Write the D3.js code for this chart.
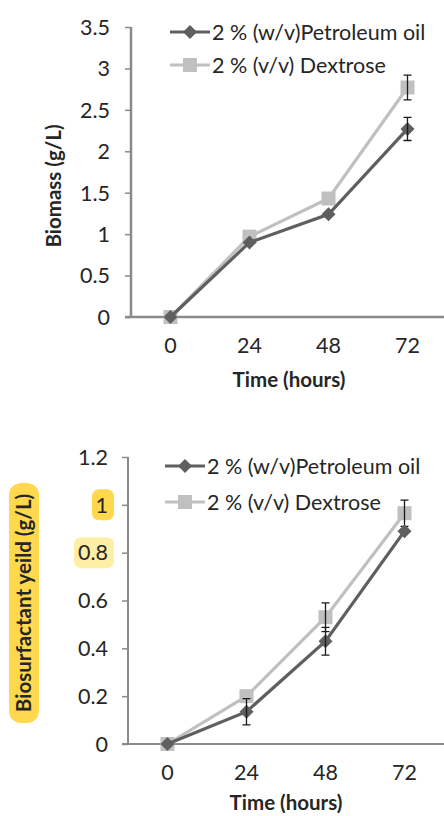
<!DOCTYPE html>
<html>
<head>
<meta charset="utf-8">
<script src="https://cdn.jsdelivr.net/npm/d3@7"></script>
<style>
  html, body { margin: 0; padding: 0; background: #fff; }
  svg { display: block; }
  text { font-family: "Lato", "Open Sans", sans-serif; fill: #262626; }
</style>
</head>
<body>
<svg id="chart" width="444" height="816"></svg>
<script>
// Sampling times (hours)
const times = ["0", "24", "48", "72"];
const seriesNames = ["2 % (w/v)Petroleum oil", "2 % (v/v) Dextrose"];

// Biomass (g/L)
const biomassPetroleum = [0, 0.9, 1.24, 2.27];
const biomassDextrose  = [0, 0.97, 1.43, 2.77];
const biomassPetroleumErr = [0, 0, 0, 0.14];
const biomassDextroseErr  = [0, 0, 0, 0.15];
const biomassTicks = [0, 0.5, 1, 1.5, 2, 2.5, 3, 3.5];

// Biosurfactant yield (g/L)
const yieldPetroleum = [0, 0.135, 0.43, 0.89];
const yieldDextrose  = [0, 0.2, 0.53, 0.965];
const yieldPetroleumErr = [0, 0.055, 0.058, 0];
const yieldDextroseErr  = [0, 0, 0.06, 0.055];
const yieldTicks = [0, 0.2, 0.4, 0.6, 0.8, 1, 1.2];

const colors = ["#5f5f5f", "#c0c0c0"];
const FS = 21.5;
const svg = d3.select("#chart");

function panel(cfg) {
  const g = svg.append("g");
  const x = d3.scaleBand().domain(times).range([cfg.left, cfg.left + 316]);
  const y = d3.scaleLinear().domain([0, cfg.max]).range([cfg.bottom, cfg.top]);

  // highlighted tick labels / title backgrounds
  (cfg.marks || []).forEach(m => {
    g.append("rect")
      .attr("x", m.x).attr("y", y(m.v) - m.h / 2)
      .attr("width", m.w).attr("height", m.h)
      .attr("rx", 7).attr("fill", m.fill);
  });
  if (cfg.titleBox) {
    const b = cfg.titleBox;
    g.append("rect").attr("x", b.x).attr("y", b.y).attr("width", b.w).attr("height", b.h)
      .attr("rx", 12).attr("fill", b.fill);
  }

  // y axis
  const ya = d3.axisLeft(y).tickValues(cfg.ticks).tickSize(6).tickPadding(cfg.yPad)
    .tickFormat(d => String(d));
  const yg = g.append("g").attr("transform", `translate(${cfg.left},0)`).call(ya);
  yg.select(".domain").attr("stroke", "#8a8a8a").attr("stroke-width", cfg.axisW)
    .attr("d", `M0,${cfg.bottom}V${cfg.top}`);
  yg.selectAll(".tick line").attr("stroke", "#8a8a8a").attr("stroke-width", 1.5);
  yg.selectAll(".tick text").attr("font-size", FS).attr("fill", "#262626")
    .attr("font-family", "Lato, sans-serif").attr("dy", "0.34em");

  // x axis (no tick marks)
  const xa = d3.axisBottom(x).tickSize(0).tickPadding(21);
  const xg = g.append("g").attr("transform", `translate(0,${cfg.bottom})`).call(xa);
  xg.select(".domain").attr("stroke", "#8a8a8a").attr("stroke-width", cfg.axisW)
    .attr("d", `M${cfg.left - 6},0H444`);
  xg.selectAll(".tick text").attr("font-size", FS).attr("fill", "#262626")
    .attr("font-family", "Lato, sans-serif");

  // axis titles
  g.append("text").attr("x", x.range()[0] + 158).attr("y", cfg.bottom + cfg.xTitleDy)
    .attr("text-anchor", "middle").attr("font-size", 20.5).attr("font-weight", "bold")
    .text("Time (hours)");
  g.append("text")
    .attr("transform", `translate(${cfg.titleX},${cfg.titleY}) rotate(-90)`)
    .attr("text-anchor", "middle").attr("font-size", 20.5).attr("font-weight", "bold")
    .text(cfg.yTitle);

  const cx = d => x(d) + x.bandwidth() / 2;
  const line = d3.line().x(d => cx(d.t)).y(d => y(d.v));

  // series drawn back to front: dextrose first, then petroleum on top
  [1, 0].forEach(si => {
    const vals = cfg.values[si], errs = cfg.errors[si];
    const pts = times.map((t, i) => ({ t, v: vals[i], e: errs[i] }));
    g.append("path").datum(pts).attr("d", line).attr("fill", "none")
      .attr("stroke", colors[si]).attr("stroke-width", 3.2);
    pts.forEach(p => {
      const px = cx(p.t), py = y(p.v);
      if (si === 1) {
        g.append("rect").attr("x", px - 7).attr("y", py - 7).attr("width", 14).attr("height", 14)
          .attr("fill", colors[si]);
      } else {
        g.append("path").attr("d", `M${px},${py - 7}L${px + 7},${py}L${px},${py + 7}L${px - 7},${py}Z`)
          .attr("fill", colors[si]);
      }
      if (p.e > 0) {
        const y1 = y(p.v + p.e), y2 = y(p.v - p.e);
        g.append("path")
          .attr("d", `M${px},${y1}V${y2}M${px - 4},${y1}H${px + 4}M${px - 4},${y2}H${px + 4}`)
          .attr("stroke", "#1a1a1a").attr("stroke-width", 1.3).attr("fill", "none");
      }
    });
  });

  // legend
  seriesNames.forEach((name, i) => {
    const ly = cfg.legendY + i * cfg.legendGap;
    const lx = cfg.legendX;
    g.append("line").attr("x1", lx).attr("x2", lx + 40).attr("y1", ly).attr("y2", ly)
      .attr("stroke", colors[i]).attr("stroke-width", 3.2);
    const mx = lx + 20;
    if (i === 1) {
      g.append("rect").attr("x", mx - 7).attr("y", ly - 7).attr("width", 14).attr("height", 14)
        .attr("fill", colors[i]);
    } else {
      g.append("path").attr("d", `M${mx},${ly - 7}L${mx + 7},${ly}L${mx},${ly + 7}L${mx - 7},${ly}Z`)
        .attr("fill", colors[i]);
    }
    g.append("text").attr("x", lx + 42).attr("y", ly + 7.5).attr("font-size", FS).text(name);
  });
}

panel({
  left: 131, top: 27, bottom: 317, max: 3.5, ticks: biomassTicks, axisW: 2.5, yPad: 15,
  values: [biomassPetroleum, biomassDextrose], errors: [biomassPetroleumErr, biomassDextroseErr],
  yTitle: "Biomass (g/L)", titleX: 61, titleY: 186, xTitleDy: 70,
  legendX: 170, legendY: 32, legendGap: 33
});

panel({
  left: 128, top: 457, bottom: 744, max: 1.2, ticks: yieldTicks, axisW: 2, yPad: 14,
  values: [yieldPetroleum, yieldDextrose], errors: [yieldPetroleumErr, yieldDextroseErr],
  yTitle: "Biosurfactant yeild (g/L)", titleX: 31, titleY: 603, xTitleDy: 66,
  titleBox: { x: 9, y: 483, w: 30, h: 240, fill: "#ffd84d" },
  marks: [
    { v: 1, x: 92, w: 22, h: 31, fill: "#ffd84d" },
    { v: 0.8, x: 74, w: 40, h: 31, fill: "#ffeea6" }
  ],
  legendX: 165, legendY: 466, legendGap: 36
});
</script>
</body>
</html>
